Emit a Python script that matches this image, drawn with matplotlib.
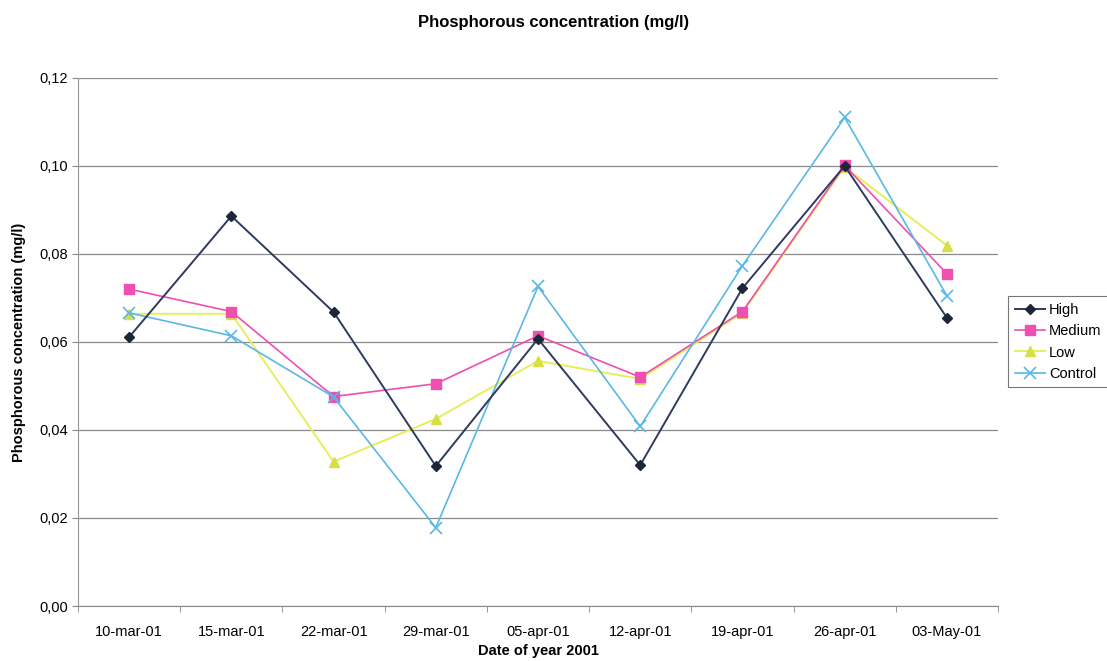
import numpy as np
import matplotlib.pyplot as plt

plt.rcParams['font.family'] = ['Liberation Sans', 'DejaVu Sans']

# Meetdata (mg/l)
DATES = ['10-mar-01', '15-mar-01', '22-mar-01', '29-mar-01', '05-apr-01',
         '12-apr-01', '19-apr-01', '26-apr-01', '03-May-01']
HIGH = [0.0611, 0.0886, 0.0668, 0.0318, 0.0607, 0.0320, 0.0722, 0.1000, 0.0655]
MEDIUM = [0.0720, 0.0669, 0.0476, 0.0505, 0.0614, 0.0520, 0.0669, 0.1001, 0.0755]
LOW = [0.0664, 0.0664, 0.0328, 0.0425, 0.0557, 0.0516, 0.0666, 0.0998, 0.0819]
CONTROL = [0.0666, 0.0614, 0.0475, 0.0178, 0.0726, 0.0408, 0.0773, 0.1110, 0.0705]
Y_TICKS = [0.0, 0.02, 0.04, 0.06, 0.08, 0.10, 0.12]

COL_HIGH = '#2e3b5e'
COL_MED = '#ee4fb0'
COL_LOW = '#e6ef5a'
COL_CTRL = '#5ab8e4'

fig = plt.figure(figsize=(11.07, 6.61), dpi=100)
ax = fig.add_axes([0.0705, 0.0832, 0.831, 0.799])

x = np.arange(len(DATES))
ax.plot(x, HIGH, color=COL_HIGH, lw=1.4, marker='D', ms=5.5,
        mfc='#1c2638', mec='#1c2638', label='High', zorder=5)
ax.plot(x, MEDIUM, color=COL_MED, lw=1.2, marker='s', ms=7,
        mfc=COL_MED, mec=COL_MED, label='Medium', zorder=4)
ax.plot(x, LOW, color=COL_LOW, lw=1.4, marker='^', ms=7,
        mfc='#d6e046', mec='#d6e046', label='Low', zorder=3)
ax.plot(x, CONTROL, color=COL_CTRL, lw=1.2, marker='x', ms=8, mew=1.2,
        label='Control', zorder=4)

ax.set_xlim(-0.5, len(DATES) - 0.5)
ax.set_ylim(0, 0.12)
ax.set_xticks(x)
ax.set_xticklabels(DATES, fontsize=10.5)
ax.set_xticks(np.arange(-0.5, len(DATES), 1.0), minor=True)
ax.tick_params(axis='x', which='major', length=0, pad=14)
ax.tick_params(axis='x', which='minor', length=4, color='#888888')
ax.set_yticks(Y_TICKS)
ax.set_yticklabels([f"{v:.2f}".replace('.', ',') for v in Y_TICKS], fontsize=10.5)
ax.tick_params(axis='y', length=4, color='#888888')

ax.grid(axis='y', color='#8a8a8a', lw=0.9)
ax.set_axisbelow(True)
for side in ('top', 'right'):
    ax.spines[side].set_visible(False)
ax.spines['left'].set_color('#999999')
ax.spines['bottom'].set_color('#888888')

ax.set_ylabel('Phosphorous concentration (mg/l)', fontsize=10.5,
              fontweight='bold', labelpad=9)
ax.set_xlabel('Date of year 2001', fontsize=10.5, fontweight='bold', labelpad=3)
fig.suptitle('Phosphorous concentration (mg/l)', fontsize=12,
             fontweight='bold', y=0.977)

leg = ax.legend(loc='center left', bbox_to_anchor=(1.011, 0.5),
                fontsize=10.5, frameon=True, fancybox=False,
                edgecolor='#555555', handlelength=2.1, borderpad=0.45,
                labelspacing=0.5, handletextpad=0.25, borderaxespad=0)
leg.get_frame().set_linewidth(0.8)

fig.savefig('out.png', dpi=100)
